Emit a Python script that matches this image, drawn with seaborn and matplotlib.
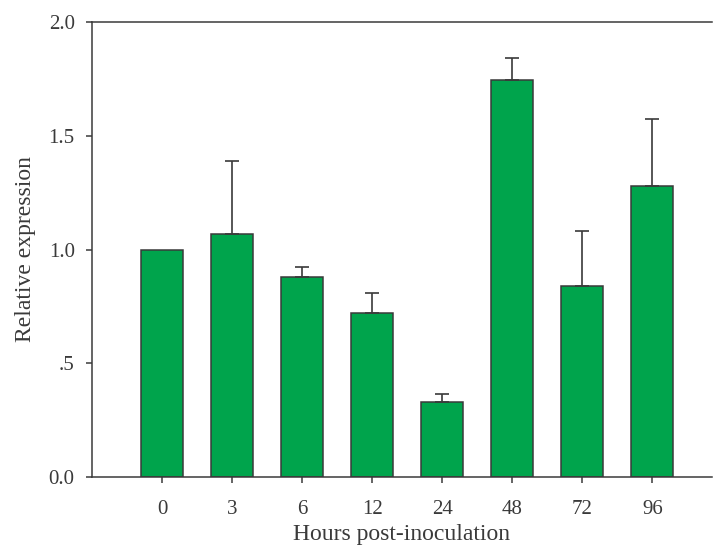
import matplotlib
matplotlib.use("Agg")
import matplotlib.pyplot as plt
import seaborn as sns
import pandas as pd
from matplotlib.ticker import FixedLocator, FuncFormatter

hours = ["0", "3", "6", "12", "24", "48", "72", "96"]
expression = [1.0, 1.07, 0.88, 0.72, 0.33, 1.745, 0.84, 1.28]
error_up = [0.0, 0.32, 0.045, 0.09, 0.035, 0.097, 0.24, 0.295]

df = pd.DataFrame({"hours": hours, "expr": expression, "err": error_up})

sns.set_style("white")
plt.rcParams["font.family"] = ["Liberation Serif", "DejaVu Serif"]

fig = plt.figure(figsize=(7.14, 5.46), dpi=100)
ax = fig.add_axes([0.129, 0.126, 0.868, 0.834])

green = "#00a44c"
edge = "#3a3a3a"
sns.barplot(data=df, x="hours", y="expr", order=hours, color=green,
            width=0.6, edgecolor=edge, linewidth=1.1, saturation=1,
            errorbar=None, ax=ax)

# upper error bars only
mask = df["err"] > 0
ax.errorbar(df.index[mask], df["expr"][mask],
            yerr=[[0] * mask.sum(), df["err"][mask]],
            fmt="none", ecolor=edge, elinewidth=1.2, capsize=4.8,
            capthick=1.2, zorder=3)

ax.set_xlim(-1, 7.85)
ax.set_ylim(0, 2.0)
ax.yaxis.set_major_locator(FixedLocator([0, 0.5, 1.0, 1.5, 2.0]))
ax.yaxis.set_major_formatter(FuncFormatter(
    lambda v, p: ".5" if abs(v - 0.5) < 1e-9 else f"{v:.1f}"))

for s in ["left", "bottom", "top"]:
    ax.spines[s].set_visible(True)
    ax.spines[s].set_color(edge)
    ax.spines[s].set_linewidth(1.1)
ax.spines["right"].set_visible(False)

ax.tick_params(axis="both", which="major", direction="out", length=4.5,
               width=1.1, color=edge, labelsize=15, labelcolor="#3a3a3a",
               left=True, bottom=True)
ax.tick_params(axis="x", pad=12)
ax.tick_params(axis="y", pad=8)

ax.set_xlabel("Hours post-inoculation", fontsize=17, color="#3a3a3a")
ax.set_ylabel("Relative expression", fontsize=17, color="#3a3a3a")
ax.xaxis.set_label_coords(0.5, -0.103)
ax.yaxis.set_label_coords(-0.108, 0.5)
ax.yaxis.label.set_va("center")

fig.savefig("out.png", dpi=100)
